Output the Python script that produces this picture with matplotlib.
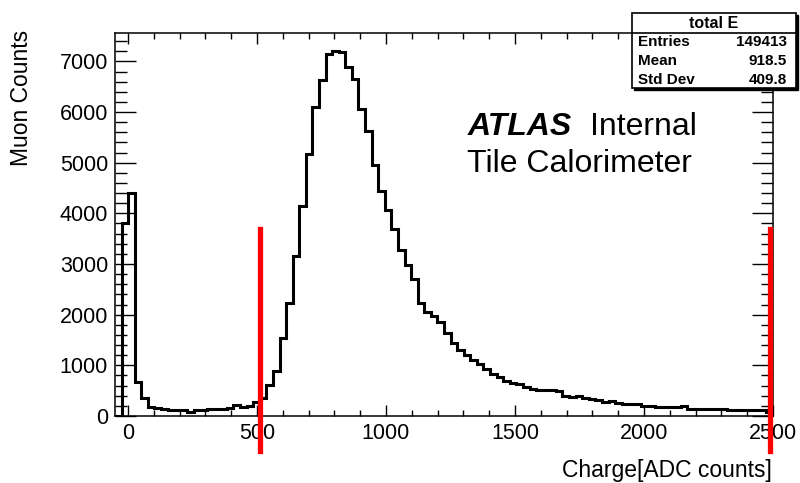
import numpy as np
import matplotlib
matplotlib.use('Agg')
import matplotlib.pyplot as plt
from matplotlib.ticker import MultipleLocator
from matplotlib.patches import Rectangle
from matplotlib.lines import Line2D

plt.rcParams['font.family'] = ['Liberation Sans', 'DejaVu Sans']

#histogram "total E": 100 bins from -50 to 2500
x_min, x_max, n_bins = -50, 2500, 100
counts = [
	0, 3800, 4400, 680, 350, 185, 150, 130, 110, 110,
	110, 80, 110, 125, 140, 140, 140, 150, 215, 185,
	200, 280, 350, 610, 895, 1535, 2240, 3160, 4150, 5180,
	6100, 6630, 7140, 7200, 7180, 6890, 6655, 6060, 5620, 4960,
	4435, 4070, 3700, 3280, 2985, 2700, 2240, 2060, 1965, 1865,
	1645, 1440, 1305, 1210, 1115, 1030, 925, 830, 770, 690,
	645, 625, 580, 540, 515, 515, 515, 500, 395, 370,
	395, 350, 330, 315, 270, 295, 265, 230, 230, 230,
	200, 200, 170, 170, 170, 170, 200, 145, 145, 145,
	145, 145, 140, 120, 120, 120, 120, 120, 120, 85,
]

#stat box
stat_title = 'total E'
stat_names = ['Entries', 'Mean', 'Std Dev']
stat_values = ['149413', '918.5', '409.8']

#red cut lines
cut_x = [510, 2487]
cut_y = [-700, 3700]

W, H = 800, 483
fig = plt.figure(figsize=(W / 100, H / 100), dpi=100)
# frame in pixels: left 115, right 773, top 33, bottom 416
ax = fig.add_axes([115 / W, 1 - 416 / H, (773 - 115) / W, (416 - 33) / H])

edges = np.linspace(x_min, x_max, n_bins + 1)
ax.stairs(counts, edges, baseline=0, color='black', linewidth=2.2)

ax.set_xlim(x_min, x_max)
ax.set_ylim(0, 1.05 * max(counts))

ax.xaxis.set_major_locator(MultipleLocator(500))
ax.xaxis.set_minor_locator(MultipleLocator(100))
ax.yaxis.set_major_locator(MultipleLocator(1000))
ax.yaxis.set_minor_locator(MultipleLocator(200))

ax.tick_params(which='both', direction='in', top=True, right=True, width=1)
ax.tick_params(axis='x', which='major', length=8, labelsize=15.5, pad=5)
ax.tick_params(axis='x', which='minor', length=4)
ax.tick_params(axis='y', which='major', length=15, labelsize=15.5, pad=5)
ax.tick_params(axis='y', which='minor', length=8.5)
for s in ax.spines.values():
	s.set_linewidth(1.1)

#cut lines, drawn past the frame
for cx in cut_x:
	ax.add_line(Line2D([cx, cx], cut_y, color='red', linewidth=3.8, clip_on=False, zorder=5))

#axis titles
fig.text(22 / W, 1 - 30 / H, 'Muon Counts', rotation=90, ha='center', va='top', fontsize=16.5)
fig.text(772 / W, 1 - 470 / H, 'Charge[ADC counts]', ha='right', va='center', fontsize=16.5)

#ATLAS label
fig.text(468 / W, 1 - 135 / H, 'ATLAS', ha='left', va='baseline', fontsize=23,
	fontweight='bold', fontstyle='italic')
fig.text(590 / W, 1 - 135 / H, 'Internal', ha='left', va='baseline', fontsize=23)
fig.text(467 / W, 1 - 172 / H, 'Tile Calorimeter', ha='left', va='baseline', fontsize=23)

#stat box (with shadow)
bx0, bx1, by0, by1 = 632, 796, 13, 88
fig.add_artist(Rectangle((bx0 / W + 2 / W, 1 - by1 / H - 2 / H), (bx1 - bx0) / W, (by1 - by0) / H,
	transform=fig.transFigure, facecolor='black', edgecolor='black', zorder=9))
fig.add_artist(Rectangle((bx0 / W, 1 - by1 / H), (bx1 - bx0) / W, (by1 - by0) / H,
	transform=fig.transFigure, facecolor='white', edgecolor='black', linewidth=1.2, zorder=10))
fig.add_artist(Line2D([bx0 / W, bx1 / W], [1 - 32.5 / H, 1 - 32.5 / H],
	transform=fig.transFigure, color='black', linewidth=1.2, zorder=11))
fig.text((bx0 + bx1) / 2 / W, 1 - 23 / H, stat_title, ha='center', va='center',
	fontsize=11.5, fontweight='bold', zorder=12)
for i in range(len(stat_names)):
	yy = 1 - (42 + 19 * i) / H
	fig.text(638 / W, yy, stat_names[i], ha='left', va='center', fontsize=11, fontweight='bold', zorder=12)
	fig.text(787 / W, yy, stat_values[i], ha='right', va='center', fontsize=11, fontweight='bold', zorder=12)

fig.savefig('out.png', dpi=100)
